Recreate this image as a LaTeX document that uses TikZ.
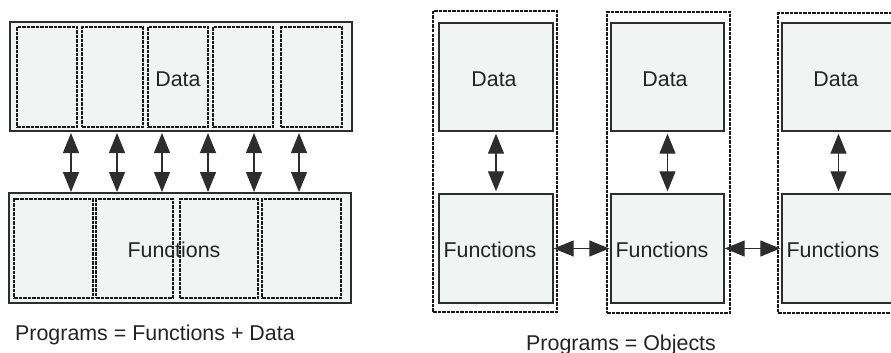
\documentclass[tikz,border=0pt]{standalone}
\usepackage{fontspec}
\setmainfont{Liberation Sans}
\usetikzlibrary{arrows.meta}
\definecolor{boxgray}{RGB}{242,244,243}
\definecolor{linec}{RGB}{45,45,45}
\definecolor{dashc}{RGB}{25,25,25}
\definecolor{textc}{RGB}{35,35,35}
\tikzset{
  solidbox/.style={draw=linec, line width=1.4pt, fill=boxgray, inner sep=0pt, rectangle},
  dashbox/.style={draw=dashc, line width=2.1pt, dash pattern=on 3.5pt off 1pt, fill=boxgray, inner sep=0pt, rectangle},
  objbox/.style={draw=dashc, line width=2.1pt, dash pattern=on 3.5pt off 1pt, fill=white, inner sep=0pt, rectangle},
  lbl/.style={text=textc, font=\fontsize{21.4pt}{25pt}\selectfont, inner sep=0pt, anchor=base},
  biarrow/.style={draw=linec, line width=1.2pt, {Triangle[width=16pt,length=20pt]}-{Triangle[width=16pt,length=20pt]}},
}
\begin{document}
\begin{tikzpicture}[x=1pt,y=-1pt]
\useasboundingbox (0,0) rectangle (891,353);
\clip (0,0) rectangle (891,353);
% ---------- left: Programs = Functions + Data
\node[solidbox, minimum width=342pt, minimum height=109pt] (dout) at (181,76.5) {};
\node[dashbox, minimum width=60pt, minimum height=100pt] (d1) at (47,77) {};
\node[dashbox, minimum width=61pt, minimum height=100pt] (d2) at (112.5,77) {};
\node[dashbox, minimum width=60pt, minimum height=100pt] (d3) at (178,77) {};
\node[dashbox, minimum width=60pt, minimum height=100pt] (d4) at (243,77) {};
\node[dashbox, minimum width=61pt, minimum height=100pt] (d5) at (311.5,77) {};
\node[lbl] (dlabel) at (178,86) {Data};

\node[solidbox, minimum width=342pt, minimum height=110pt] (fout) at (180,248) {};
\node[dashbox, minimum width=79pt, minimum height=99pt] (f1) at (53.5,248.5) {};
\node[dashbox, minimum width=77pt, minimum height=99pt] (f2) at (134.5,248.5) {};
\node[dashbox, minimum width=78pt, minimum height=99pt] (f3) at (219,248.5) {};
\node[dashbox, minimum width=79pt, minimum height=99pt] (f4) at (301.5,248.5) {};
\node[lbl] (flabel) at (174,257) {Functions};

\foreach \i/\xx in {1/71,2/117,3/162,4/208,5/254,6/299}{
  \coordinate (at\i) at (\xx,133);
  \coordinate (ab\i) at (\xx,192);
  \draw[biarrow] (at\i) -- (ab\i);
}
\node[lbl, anchor=base west] (cap1) at (15,340) {Programs = Functions + Data};

% ---------- right: Programs = Objects
\node[objbox, minimum width=124pt, minimum height=301pt] (o1) at (495,161.5) {};
\node[solidbox, minimum width=114pt, minimum height=108pt] (da1) at (496,77) {};
\node[solidbox, minimum width=114pt, minimum height=109pt] (fu1) at (496,248.5) {};
\node[lbl] at (494,86) {Data};
\node[lbl] at (490,257) {Functions};

\node[objbox, minimum width=123pt, minimum height=301pt] (o2) at (668.5,162.5) {};
\node[solidbox, minimum width=113pt, minimum height=108pt] (da2) at (667.5,77) {};
\node[solidbox, minimum width=113pt, minimum height=109pt] (fu2) at (667.5,248.5) {};
\node[lbl] at (665,86) {Data};
\node[lbl] at (662,257) {Functions};

\node[objbox, minimum width=123pt, minimum height=300pt] (o3) at (839.5,163) {};
\node[solidbox, minimum width=113pt, minimum height=108pt] (da3) at (838.5,77) {};
\node[solidbox, minimum width=113pt, minimum height=109pt] (fu3) at (838.5,248.5) {};
\node[lbl] at (836,86) {Data};
\node[lbl] at (833,257) {Functions};

\draw[biarrow, shorten <=2pt, shorten >=2pt] (da1.south) -- (fu1.north);
\draw[biarrow, shorten <=2pt, shorten >=2pt] (da2.south) -- (fu2.north);
\draw[biarrow, shorten <=2pt, shorten >=2pt] (da3.south) -- (fu3.north);
\draw[biarrow, shorten >=1pt] (fu1.east) -- (fu2.west);
\draw[biarrow, shorten >=1pt] (fu2.east) -- (fu3.west);

\node[lbl, anchor=base west] (cap2) at (526,350) {Programs = Objects};
\end{tikzpicture}
\end{document}
